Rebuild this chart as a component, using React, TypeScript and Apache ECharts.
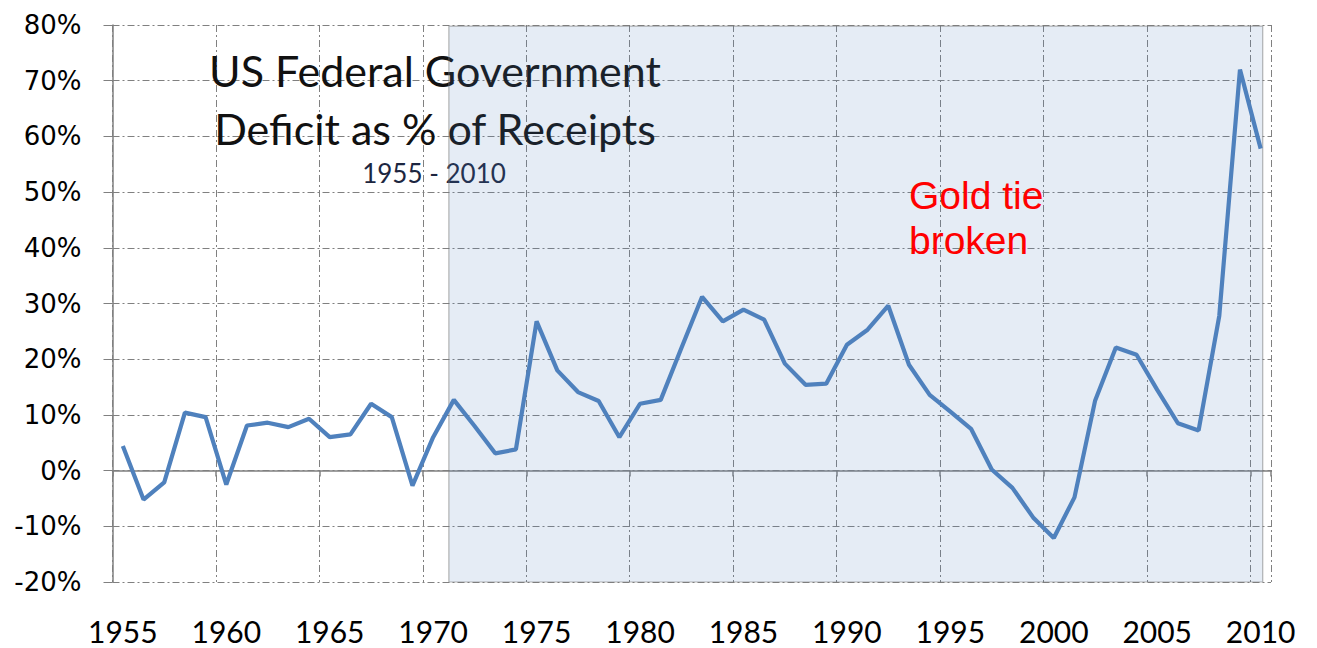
import React, { useEffect, useRef } from "react";
import * as echarts from "echarts";

// Fiscal years shown on the category axis
const years: string[] = [
  "1955", "1956", "1957", "1958", "1959", "1960", "1961", "1962", "1963", "1964",
  "1965", "1966", "1967", "1968", "1969", "1970", "1971", "1972", "1973", "1974",
  "1975", "1976", "1977", "1978", "1979", "1980", "1981", "1982", "1983", "1984",
  "1985", "1986", "1987", "1988", "1989", "1990", "1991", "1992", "1993", "1994",
  "1995", "1996", "1997", "1998", "1999", "2000", "2001", "2002", "2003", "2004",
  "2005", "2006", "2007", "2008", "2009", "2010",
];

// Deficit as % of receipts
const deficitPct: number[] = [
  4.4, -5.2, -2.1, 10.4, 9.6, -2.5, 8.1, 8.6, 7.8, 9.3,
  6.0, 6.5, 12.0, 9.6, -2.7, 6.0, 12.7, 8.0, 3.1, 3.8,
  26.8, 18.0, 14.1, 12.5, 6.0, 12.0, 12.7, 22.0, 31.2, 26.8,
  28.9, 27.1, 19.2, 15.4, 15.6, 22.6, 25.3, 29.6, 19.0, 13.6,
  10.6, 7.5, 0.2, -3.1, -8.4, -12.1, -4.8, 12.6, 22.1, 20.8,
  14.5, 8.5, 7.2, 27.8, 72.0, 57.8,
];

// Y-axis ticks
const yMin = -20;
const yMax = 80;
const yStep = 10;

// Label every 5th year
const labelEvery = 5;

// Shaded period after the gold tie was broken (Aug 1971) to the end
const shadeFromYear = 1970.76;
const shadeToYear = 2010.1;
const shadeTopPct = 79.8;

const titleLines = ["US Federal Government", "Deficit as % of Receipts"];
const subtitle = "1955 - 2010";
const note = "Gold tie\nbroken";

export default function App() {
  const ref = useRef<HTMLDivElement>(null);

  useEffect(() => {
    const chart = echarts.init(ref.current!, null, { renderer: "svg" });
    const grid = "#808080";
    const dashDot = [7, 3, 2, 3];
    chart.setOption({
      animation: false,
      backgroundColor: "#ffffff",
      grid: { left: 112.5, right: 46, top: 25, bottom: 66, containLabel: false },
      xAxis: [
        {
          type: "category",
          data: years,
          boundaryGap: true,
          axisLine: { show: false, onZero: false },
          axisTick: { show: false },
          axisLabel: {
            interval: labelEvery - 1,
            margin: 34,
            fontFamily: "Lato",
            fontSize: 30,
            color: "#000",
          },
          splitLine: {
            show: true,
            interval: labelEvery - 1,
            lineStyle: { color: grid, type: dashDot, width: 1 },
          },
        },
        {
          type: "category",
          data: years,
          position: "top",
          boundaryGap: true,
          axisLine: { show: true, onZero: true, lineStyle: { color: grid, width: 1.5 } },
          axisTick: {
            show: true,
            inside: true,
            interval: labelEvery - 1,
            length: 6,
            lineStyle: { color: grid, width: 1.5 },
          },
          axisLabel: { show: false },
          splitLine: { show: false },
        },
        {
          type: "value",
          min: 1954.5,
          max: 2010.5,
          show: false,
        },
      ],
      yAxis: {
        type: "value",
        min: yMin,
        max: yMax,
        interval: yStep,
        axisLine: { show: true, lineStyle: { color: grid, width: 1.5 } },
        axisTick: { show: true, length: 9, lineStyle: { color: grid, width: 1 } },
        axisLabel: {
          formatter: "{value}%",
          margin: 31,
          fontFamily: "DejaVu Sans",
          fontSize: 26,
          color: "#000",
        },
        splitLine: { show: true, lineStyle: { color: grid, type: dashDot, width: 1 } },
      },
      graphic: {
        elements: [
          {
            type: "text",
            x: 435,
            y: 70,
            z: 1,
            style: {
              text: titleLines[0],
              fontFamily: "Lato",
              fontSize: 43,
              fill: "#111",
              align: "center",
              verticalAlign: "middle",
            },
          },
          {
            type: "text",
            x: 435,
            y: 128,
            z: 1,
            style: {
              text: titleLines[1],
              fontFamily: "Lato",
              fontSize: 43,
              fill: "#111",
              align: "center",
              verticalAlign: "middle",
            },
          },
          {
            type: "text",
            x: 434,
            y: 173,
            z: 1,
            style: {
              text: subtitle,
              fontFamily: "Lato",
              fontSize: 26,
              fill: "#1c2640",
              align: "center",
              verticalAlign: "middle",
            },
          },
          {
            type: "text",
            x: 909,
            y: 218,
            z: 10,
            style: {
              text: note,
              fontFamily: "Liberation Sans",
              fontSize: 39,
              lineHeight: 45,
              fill: "#ff0000",
              align: "left",
              verticalAlign: "middle",
            },
          },
        ],
      },
      series: [
        {
          type: "custom",
          xAxisIndex: 2,
          yAxisIndex: 0,
          z: 3,
          silent: true,
          encode: { x: [0, 1], y: [2, 3] },
          data: [[shadeFromYear, shadeToYear, shadeTopPct, yMin]],
          renderItem: (params: any, api: any) => {
            const p1 = api.coord([api.value(0), api.value(2)]);
            const p2 = api.coord([api.value(1), api.value(3)]);
            return {
              type: "rect",
              shape: { x: p1[0], y: p1[1], width: p2[0] - p1[0], height: p2[1] - p1[1] },
              style: {
                fill: "rgba(79,129,189,0.15)",
                stroke: "rgba(120,120,120,0.55)",
                lineWidth: 1.2,
              },
            };
          },
        },
        {
          type: "line",
          xAxisIndex: 0,
          yAxisIndex: 0,
          data: deficitPct,
          symbol: "none",
          showSymbol: false,
          z: 5,
          lineStyle: { color: "#4f81bd", width: 4.2 },
        },
      ],
    });
    return () => chart.dispose();
  }, []);

  return (
    <div
      ref={ref}
      style={{ position: "fixed", left: 0, top: 0, width: 1317, height: 648, background: "#fff" }}
    />
  );
}
